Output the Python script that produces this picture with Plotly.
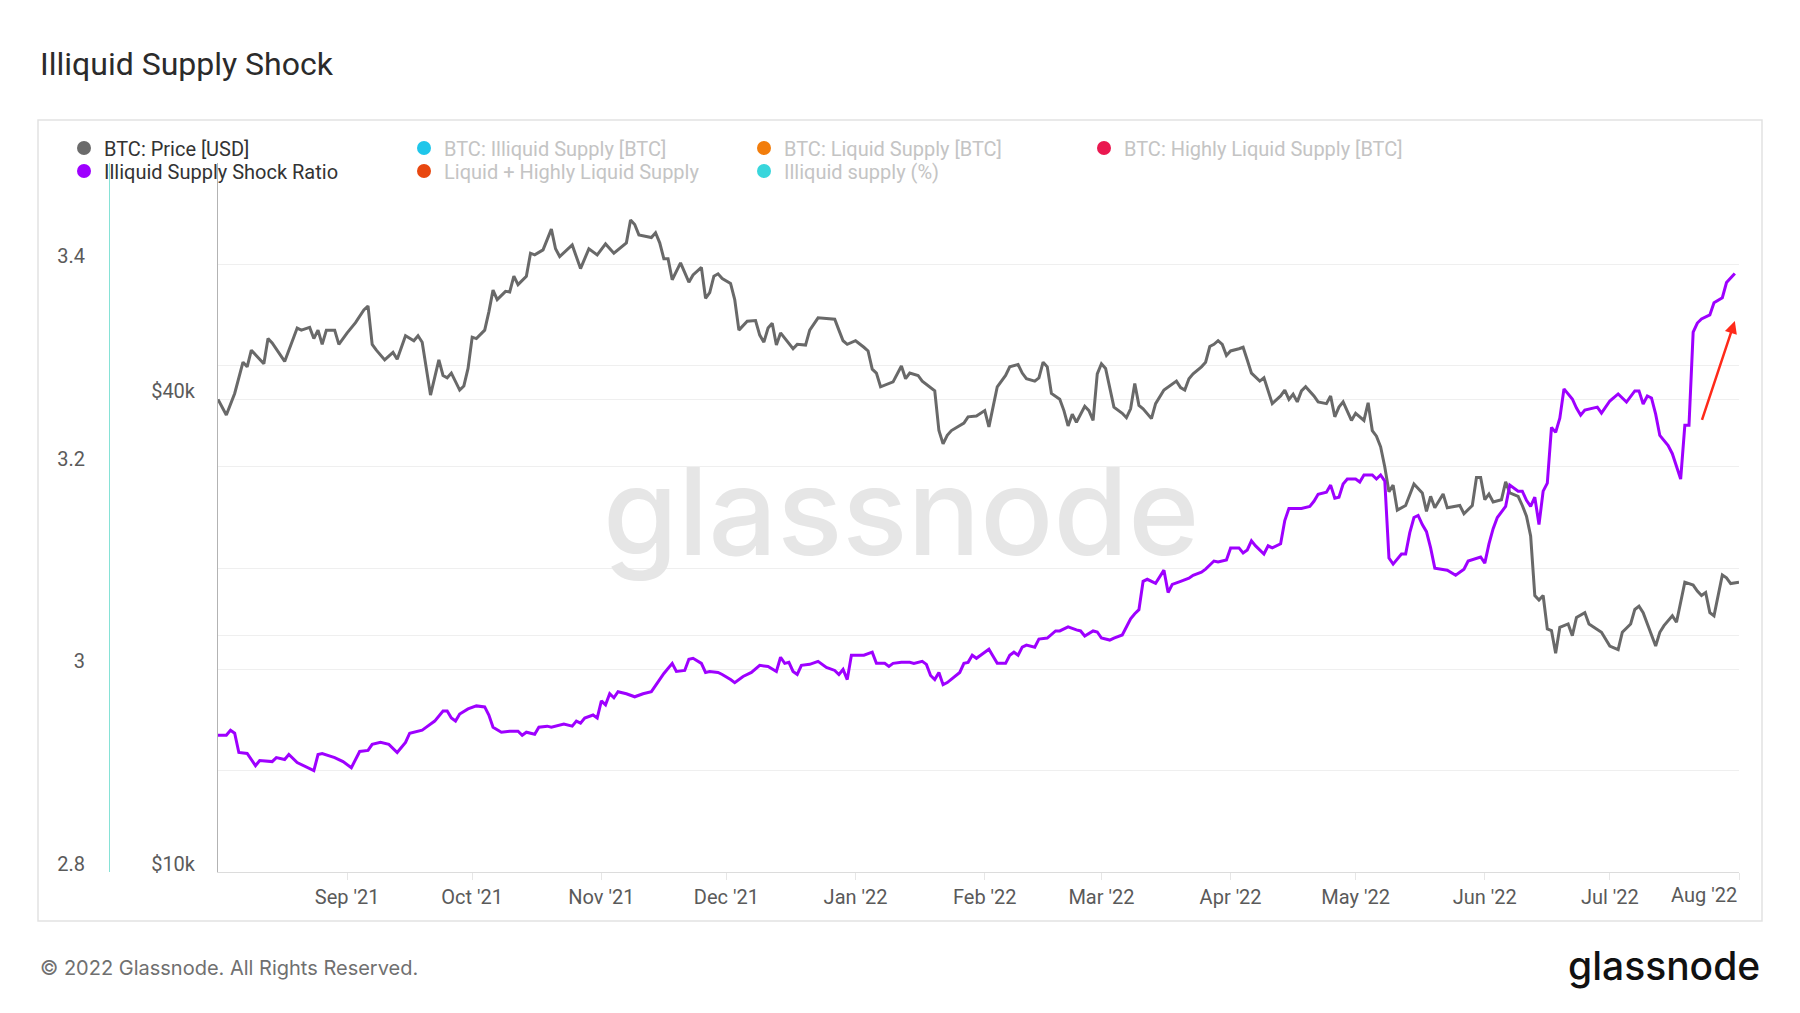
import math
import pandas as pd
import plotly.graph_objects as go

W, H = 1800, 1013

TITLE = "Illiquid Supply Shock"
FOOTER = "© 2022 Glassnode. All Rights Reserved."
WATERMARK = "glassnode"
START = "2021-08-01"
END = "2022-08-01"

# ---- data (days since 2021-08-01) ----
price_day = [
    0, 2, 4, 6, 7, 8, 9, 11, 12, 13,
    16, 19, 20, 22, 23, 24, 25, 26, 28, 29,
    31, 33, 35, 36, 37, 38, 40, 42, 43, 45,
    47, 48, 49, 51, 53, 54, 55, 56, 58, 59,
    60, 61, 62, 64, 65, 66, 67, 69, 70, 71,
    72, 74, 75, 76, 78, 80, 81, 82, 85, 87,
    89, 91, 93, 95, 98, 99, 100, 101, 104, 105,
    106, 107, 108, 109, 111, 113, 114, 116, 117, 118,
    119, 120, 121, 123, 124, 125, 127, 129, 130, 131,
    132, 133, 134, 135, 138, 139, 141, 142, 144, 148,
    149, 150, 151, 153, 155, 156, 157, 158, 159, 162,
    164, 165, 166, 168, 169, 172, 173, 174, 175, 176,
    179, 180, 182, 184, 185, 187, 189, 190, 192, 193,
    194, 196, 197, 198, 199, 200, 202, 203, 204, 205,
    206, 208, 209, 210, 211, 212, 213, 214, 215, 217,
    218, 219, 220, 221, 222, 224, 225, 227, 229, 230,
    231, 232, 233, 234, 236, 237, 238, 239, 240, 241,
    242, 243, 245, 246, 247, 248, 250, 251, 253, 255,
    256, 257, 258, 259, 260, 261, 263, 264, 266, 267,
    268, 269, 270, 271, 272, 273, 275, 276, 277, 278,
    279, 280, 281, 282, 283, 285, 287, 289, 290, 291,
    292, 294, 295, 298, 299, 301, 302, 303, 304, 305,
    306, 308, 309, 310, 312, 313, 314, 315, 316, 317,
    318, 319, 320, 321, 322, 324, 325, 326, 328, 329,
    332, 334, 336, 337, 339, 340, 341, 342, 345, 346,
    347, 349, 350, 352, 354, 355, 356, 357, 358, 359,
    361, 362, 363, 365,
]
price_kusd = [
    40.0, 38.2, 40.7, 44.6, 44.0, 46.2, 45.6, 44.4, 47.8, 47.2,
    44.7, 49.3, 49.0, 49.4, 47.8, 49.0, 47.0, 49.0, 49.0, 47.0,
    48.6, 50.1, 52.0, 52.6, 47.0, 46.2, 44.9, 45.9, 45.0, 48.2,
    47.5, 48.2, 47.3, 40.5, 44.9, 42.9, 42.6, 43.2, 41.1, 41.6,
    43.8, 48.0, 47.8, 49.0, 51.7, 55.1, 53.6, 54.9, 54.8, 57.4,
    56.0, 57.4, 61.4, 61.1, 62.0, 65.9, 62.2, 60.8, 62.9, 58.7,
    62.2, 61.1, 63.1, 61.4, 63.3, 67.7, 66.8, 64.8, 64.3, 65.2,
    63.3, 60.4, 60.4, 56.8, 59.7, 56.4, 57.6, 58.9, 53.8, 54.7,
    57.4, 57.8, 57.0, 56.2, 53.6, 49.0, 50.3, 50.4, 48.3, 47.3,
    49.3, 50.0, 46.9, 48.6, 46.4, 47.0, 46.9, 49.0, 50.8, 50.6,
    49.0, 47.5, 47.0, 47.5, 46.6, 46.1, 43.7, 43.2, 41.5, 42.1,
    44.1, 42.5, 43.2, 42.9, 42.2, 41.0, 36.5, 35.1, 36.0, 36.5,
    37.3, 38.0, 38.1, 38.7, 36.9, 41.5, 42.9, 44.0, 44.3, 43.2,
    42.5, 42.2, 42.6, 44.6, 44.0, 40.7, 40.0, 38.7, 37.0, 38.3,
    37.4, 39.2, 38.7, 37.6, 43.1, 44.4, 43.8, 41.5, 39.1, 38.4,
    37.9, 38.9, 41.9, 39.3, 38.9, 37.8, 39.5, 41.1, 41.9, 42.2,
    41.4, 41.1, 42.5, 43.1, 44.0, 44.6, 46.7, 47.0, 47.5, 47.0,
    45.5, 46.1, 46.4, 46.6, 44.9, 43.2, 42.2, 42.6, 39.5, 40.4,
    41.1, 40.0, 40.6, 39.7, 41.0, 41.5, 40.4, 39.7, 39.5, 40.4,
    38.0, 39.1, 39.7, 38.7, 37.6, 38.4, 37.6, 39.6, 36.5, 35.9,
    34.8, 32.8, 30.5, 31.1, 28.9, 29.3, 31.2, 30.4, 28.8, 30.1,
    29.1, 30.3, 29.1, 29.3, 28.6, 29.3, 31.8, 31.8, 29.8, 30.3,
    29.6, 29.8, 31.4, 30.4, 30.1, 29.3, 28.4, 26.8, 22.5, 22.2,
    22.5, 20.4, 20.3, 19.0, 20.5, 20.7, 20.0, 21.1, 21.4, 20.7,
    20.2, 19.4, 19.2, 20.2, 20.7, 21.6, 21.8, 21.4, 19.4, 20.2,
    20.6, 21.2, 20.8, 23.4, 23.2, 22.8, 22.5, 22.7, 21.4, 21.2,
    23.9, 23.7, 23.3, 23.4,
]

ratio_day = [
    0, 2, 3, 4, 5, 7, 9, 10, 13, 14,
    16, 17, 19, 23, 24, 25, 28, 30, 32, 34,
    36, 37, 39, 41, 43, 45, 46, 47, 49, 50,
    52, 54, 55, 56, 57, 58, 60, 62, 64, 65,
    66, 68, 70, 72, 73, 74, 76, 77, 79, 80,
    83, 85, 86, 87, 88, 90, 91, 92, 93, 94,
    95, 96, 98, 100, 102, 104, 106, 107, 109, 110,
    112, 113, 114, 116, 117, 118, 120, 121, 123, 124,
    126, 128, 130, 132, 134, 135, 136, 137, 138, 139,
    140, 142, 144, 146, 148, 149, 150, 151, 152, 153,
    155, 157, 158, 160, 161, 162, 164, 166, 167, 169,
    170, 171, 172, 173, 174, 175, 178, 179, 180, 181,
    182, 184, 185, 186, 187, 189, 190, 191, 192, 193,
    194, 196, 197, 199, 201, 202, 204, 206, 207, 208,
    210, 211, 212, 214, 215, 217, 218, 219, 220, 221,
    222, 223, 225, 227, 228, 229, 231, 233, 234, 236,
    237, 239, 240, 242, 243, 245, 246, 247, 248, 249,
    251, 252, 253, 255, 256, 257, 258, 260, 262, 263,
    264, 266, 267, 268, 269, 270, 271, 272, 273, 274,
    275, 277, 278, 279, 280, 281, 282, 284, 285, 286,
    287, 288, 289, 290, 291, 292, 295, 297, 299, 300,
    303, 304, 305, 306, 307, 309, 310, 312, 313, 314,
    315, 316, 317, 318, 319, 320, 321, 322, 323, 325,
    326, 327, 328, 331, 332, 334, 336, 338, 340, 341,
    342, 343, 344, 345, 346, 348, 349, 351, 352, 353,
    354, 355, 356, 358, 359, 361, 362, 364,
]
ratio_val = [
    2.935, 2.935, 2.940, 2.937, 2.918, 2.917, 2.905, 2.910, 2.909, 2.913,
    2.911, 2.916, 2.908, 2.900, 2.916, 2.917, 2.913, 2.909, 2.903, 2.919,
    2.920, 2.926, 2.928, 2.926, 2.918, 2.928, 2.937, 2.938, 2.940, 2.943,
    2.949, 2.959, 2.959, 2.952, 2.949, 2.956, 2.961, 2.964, 2.963, 2.955,
    2.943, 2.938, 2.939, 2.939, 2.935, 2.938, 2.936, 2.943, 2.944, 2.943,
    2.946, 2.944, 2.949, 2.947, 2.952, 2.955, 2.952, 2.969, 2.965, 2.976,
    2.972, 2.978, 2.976, 2.973, 2.976, 2.978, 2.990, 2.996, 3.006, 2.998,
    2.999, 3.010, 3.011, 3.006, 2.997, 2.998, 2.997, 2.995, 2.990, 2.987,
    2.993, 2.997, 3.004, 3.003, 2.998, 3.012, 3.006, 3.007, 2.998, 2.995,
    3.004, 3.005, 3.008, 3.002, 2.999, 2.995, 3.000, 2.990, 3.014, 3.014,
    3.014, 3.017, 3.006, 3.006, 3.003, 3.006, 3.007, 3.007, 3.006, 3.008,
    3.005, 2.994, 2.990, 2.997, 2.985, 2.987, 2.997, 3.006, 3.007, 3.014,
    3.011, 3.017, 3.020, 3.013, 3.006, 3.006, 3.014, 3.017, 3.014, 3.022,
    3.024, 3.022, 3.030, 3.031, 3.038, 3.038, 3.042, 3.039, 3.038, 3.033,
    3.038, 3.037, 3.031, 3.029, 3.031, 3.034, 3.042, 3.050, 3.055, 3.059,
    3.087, 3.089, 3.085, 3.098, 3.076, 3.084, 3.087, 3.090, 3.093, 3.096,
    3.099, 3.107, 3.106, 3.108, 3.120, 3.120, 3.115, 3.118, 3.127, 3.122,
    3.114, 3.122, 3.120, 3.124, 3.147, 3.159, 3.159, 3.159, 3.161, 3.166,
    3.173, 3.175, 3.182, 3.169, 3.170, 3.183, 3.188, 3.188, 3.188, 3.185,
    3.192, 3.192, 3.188, 3.192, 3.186, 3.110, 3.104, 3.114, 3.114, 3.135,
    3.150, 3.152, 3.143, 3.136, 3.120, 3.100, 3.098, 3.093, 3.099, 3.107,
    3.111, 3.105, 3.124, 3.139, 3.150, 3.161, 3.182, 3.176, 3.176, 3.167,
    3.161, 3.170, 3.143, 3.176, 3.184, 3.239, 3.234, 3.248, 3.277, 3.267,
    3.258, 3.251, 3.256, 3.259, 3.253, 3.265, 3.272, 3.264, 3.275, 3.275,
    3.262, 3.270, 3.268, 3.252, 3.231, 3.221, 3.213, 3.188, 3.241, 3.241,
    3.333, 3.342, 3.346, 3.350, 3.362, 3.367, 3.382, 3.391,
]

month_ticks = ["2021-09-01", "2021-10-01", "2021-11-01", "2021-12-01",
               "2022-01-01", "2022-02-01", "2022-03-01", "2022-04-01",
               "2022-05-01", "2022-06-01", "2022-07-01", "2022-08-01"]
month_labels = ["Sep '21", "Oct '21", "Nov '21", "Dec '21", "Jan '22", "Feb '22",
                "Mar '22", "Apr '22", "May '22", "Jun '22", "Jul '22", ""]
last_month_label = "Aug '22"

price_tick_vals = [10000, 40000]
price_tick_text = ["$10k", "$40k"]
price_minor_vals = [20000, 80000]
price_range = [10000, 80000]
ratio_range = [2.8, 3.5]

legend_row1 = [
    ("BTC: Price [USD]", "#6b6b6b", True),
    ("BTC: Illiquid Supply [BTC]", "#1fc6ea", False),
    ("BTC: Liquid Supply [BTC]", "#f27d0c", False),
    ("BTC: Highly Liquid Supply [BTC]", "#ea1850", False),
]
legend_row2 = [
    ("Illiquid Supply Shock Ratio", "#9e00ff", True),
    ("Liquid + Highly Liquid Supply", "#e8470f", False),
    ("Illiquid supply (%)", "#38d6dc", False),
]

ARROW_HEAD = ("2022-07-31", 3.344)
ARROW_TAIL = ("2022-07-23", 3.245)

# ---- styling ----
PRICE_COLOR = "#696969"
RATIO_COLOR = "#9e00ff"
GRID = "#efefef"
FONT = "Roboto"
TICK_FONT = dict(family=FONT, size=20, color="#5a5a5a")

PL, PR, PT, PB = 218, 1739, 163, 872


def px_x(p):
    return p / W


def px_y(p):
    return 1 - p / H


base = pd.Timestamp(START)
price_dates = base + pd.to_timedelta(price_day, unit="D")
ratio_dates = base + pd.to_timedelta(ratio_day, unit="D")

fig = go.Figure()

fig.add_trace(go.Scatter(
    x=price_dates, y=[v * 1000 for v in price_kusd], mode="lines",
    line=dict(color=PRICE_COLOR, width=3), yaxis="y", xaxis="x",
    name="BTC: Price [USD]", showlegend=False, legendgroup="price"))
fig.add_trace(go.Scatter(
    x=ratio_dates, y=ratio_val, mode="lines",
    line=dict(color=RATIO_COLOR, width=3), yaxis="y2", xaxis="x",
    name="Illiquid Supply Shock Ratio", showlegend=False, legendgroup="ratio"))

groups = {"BTC: Price [USD]": "price", "Illiquid Supply Shock Ratio": "ratio"}
for legend_id, row in (("legend", legend_row1), ("legend2", legend_row2)):
    for name, color, active in row:
        label = name if active else '<span style="color:#c4c4c4">' + name + "</span>"
        fig.add_trace(go.Scatter(
            x=[None], y=[None], mode="markers", marker=dict(size=14, color=color),
            name=label, legend=legend_id, showlegend=True,
            legendgroup=groups.get(name, name), hoverinfo="skip"))

legend_common = dict(
    orientation="h", xanchor="left", yanchor="middle",
    entrywidth=295, entrywidthmode="pixels", itemwidth=30,
    font=dict(family=FONT, size=20, color="#333333"),
    bgcolor="rgba(0,0,0,0)", borderwidth=0, traceorder="normal",
)

fig.update_layout(
    width=W, height=H,
    margin=dict(l=0, r=0, t=0, b=0),
    paper_bgcolor="white", plot_bgcolor="white",
    font=dict(family=FONT, color="#555555"),
    showlegend=True,
    legend=dict(legend_common, x=px_x(64), y=px_y(148)),
    legend2=dict(legend_common, x=px_x(64), y=px_y(171)),
    xaxis=dict(
        domain=[px_x(PL), px_x(PR)], type="date", range=[START, END],
        tickmode="array", tickvals=month_ticks, ticktext=month_labels,
        ticks="outside", ticklen=7, tickcolor="#e6e6e6", tickwidth=1,
        showline=True, linecolor="#dcdcdc", linewidth=1,
        showgrid=False, zeroline=False, tickfont=TICK_FONT, automargin=False,
    ),
    yaxis=dict(
        domain=[px_y(PB), px_y(PT)], type="log",
        range=[math.log10(price_range[0]), math.log10(price_range[1])],
        tickmode="array", tickvals=price_tick_vals, ticktext=price_tick_text,
        ticks="", showline=True, linecolor="#b3b3b3", linewidth=1,
        showgrid=True, gridcolor=GRID, gridwidth=1, zeroline=False,
        minor=dict(tickmode="array", tickvals=price_minor_vals, showgrid=True,
                   gridcolor=GRID, gridwidth=1, ticks=""),
        tickfont=TICK_FONT, ticklabelshift=-8, ticklabelstandoff=18,
        anchor="x", side="left", automargin=False,
    ),
    yaxis2=dict(
        overlaying="y", anchor="free", position=px_x(109), side="left",
        range=ratio_range, tickmode="linear", tick0=2.8, dtick=0.2,
        ticks="", showline=True, linecolor="#86e2d6", linewidth=1,
        showgrid=True, gridcolor=GRID, gridwidth=1, zeroline=False,
        minor=dict(tick0=2.8, dtick=0.1, showgrid=True, gridcolor=GRID,
                   gridwidth=1, ticks=""),
        tickfont=TICK_FONT, ticklabelshift=-8, ticklabelstandoff=20,
        automargin=False,
    ),
    shapes=[dict(type="rect", xref="paper", yref="paper",
                 x0=px_x(38), x1=px_x(1762), y0=px_y(921), y1=px_y(120),
                 line=dict(color="#e2e2e2", width=1.5), layer="below")],
    annotations=[
        dict(text=TITLE, xref="paper", yref="paper", x=px_x(38), y=px_y(64),
             xanchor="left", yanchor="middle", showarrow=False,
             font=dict(family=FONT, size=32, color="#2b2b2b")),
        dict(text=WATERMARK, xref="paper", yref="paper", x=px_x(901), y=px_y(511),
             xanchor="center", yanchor="middle", showarrow=False,
             font=dict(family="Inter", size=121, color="#e6e6e6", weight=500)),
        dict(text=FOOTER, xref="paper", yref="paper", x=px_x(38), y=px_y(968),
             xanchor="left", yanchor="middle", showarrow=False,
             font=dict(family="Inter", size=20, color="#707070")),
        dict(text=WATERMARK, xref="paper", yref="paper", x=px_x(1762), y=px_y(965),
             xanchor="right", yanchor="middle", showarrow=False,
             font=dict(family="Inter", size=39, color="#111111", weight=500)),
        dict(text=last_month_label, xref="x", yref="paper", x=END, y=px_y(895),
             xanchor="right", yanchor="middle", showarrow=False, font=TICK_FONT),
        dict(text="", xref="x", yref="y2", x=ARROW_HEAD[0], y=ARROW_HEAD[1],
             axref="x", ayref="y2", ax=ARROW_TAIL[0], ay=ARROW_TAIL[1],
             showarrow=True, arrowhead=2, arrowsize=1, arrowwidth=2.5,
             arrowcolor="#ff2a1a"),
    ],
)

fig.write_html(
    "out.html",
    config={"displayModeBar": False},
    post_script="document.body.style.margin='0';document.body.style.overflow='hidden';",
)
